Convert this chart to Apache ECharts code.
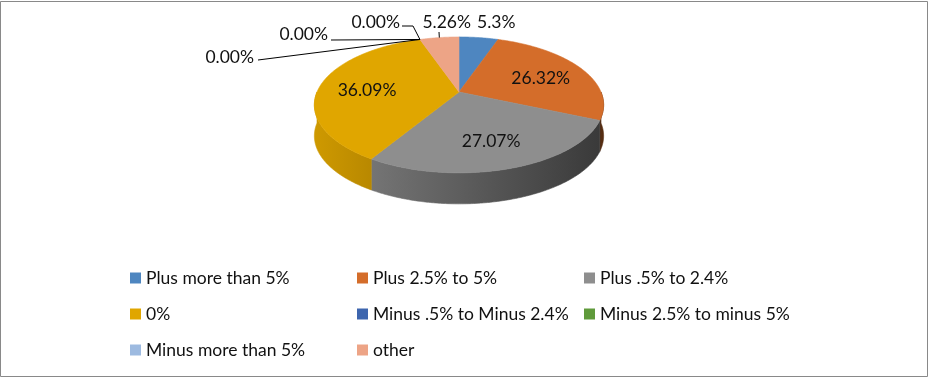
<!DOCTYPE html>
<html><head><meta charset="utf-8">
<script src="https://cdn.jsdelivr.net/npm/echarts@6/dist/echarts.min.js"></script>
<style>html,body{margin:0;padding:0;background:#fff}#c{width:928px;height:380px}</style>
</head><body><div id="c"></div>
<script>
// ---- data ----
const categories = ['Plus more than 5%', 'Plus 2.5% to 5%', 'Plus .5% to 2.4%', '0%',
  'Minus .5% to Minus 2.4%', 'Minus 2.5% to minus 5%', 'Minus more than 5%', 'other'];
const values = [5.26, 26.32, 27.07, 36.09, 0, 0, 0, 5.26];
const labelDecimals = [1, 2, 2, 2, 2, 2, 2, 2];

// ---- style / layout ----
const colors = ['#4E86C0', '#D46D2A', '#8E8E8E', '#E0A600', '#3D65AE', '#5F9A3B', '#9DBAE0', '#EDA486'];
const FONT = 'Lato';
const FS = 17.5;
const TXT = '#111';
const PIE = { cx: 459, cy: 92, r: 142, ry: 65.5, persp: 0.19, depth: 31, labelR: 0.66, labelDy: 3 };
// outside labels: text anchor + leader points (leader starts at slice's rim point)
const outside = {
  0: { x: 477, y: 22, align: 'left', leader: [] },
  7: { x: 471, y: 22, align: 'right', leader: [[439, 32]], mid: true },
  4: { x: 400, y: 22, align: 'right', leader: [[413, 26], [402, 26]] },
  5: { x: 328, y: 34, align: 'right', leader: [[331, 40]] },
  6: { x: 254, y: 57, align: 'right', leader: [[258, 60]] }
};

const total = values.reduce((a, b) => a + b, 0);
const cum = []; values.reduce((acc, v, i) => { cum[i] = acc; return acc + v; }, 0);

function proj(t, f) {
  const c = Math.cos(t), s = Math.sin(t);
  const k = 1 / (1 + PIE.persp * f * c);
  return [PIE.cx + PIE.r * f * s * k, PIE.cy - PIE.ry * f * c * k];
}
function shade(hex, m) {
  const n = parseInt(hex.slice(1), 16);
  const r = Math.round(((n >> 16) & 255) * m), g = Math.round(((n >> 8) & 255) * m), b = Math.round((n & 255) * m);
  return 'rgb(' + r + ',' + g + ',' + b + ')';
}
function sideFill(color) {
  return new echarts.graphic.LinearGradient(PIE.cx - PIE.r - 2, 0, PIE.cx + PIE.r + 2, 0, [
    { offset: 0, color: shade(color, 0.92) },
    { offset: 0.2, color: shade(color, 0.82) },
    { offset: 1, color: shade(color, 0.40) }
  ], true);
}

function makeRender(i) {
  return function (params, api) {
    const v = api.value(0);
    const t0 = cum[i] / total * 2 * Math.PI;
    const t1 = t0 + v / total * 2 * Math.PI;
    const color = colors[i];
    const children = [];
    if (v > 0) {
      const a = Math.max(t0, Math.PI / 2), b = Math.min(t1, 1.5 * Math.PI);
      if (b > a) {
        const n = Math.max(2, Math.ceil((b - a) / 0.01));
        const pts = [];
        for (let j = 0; j <= n; j++) pts.push(proj(a + (b - a) * j / n, 1));
        const bot = pts.slice().reverse().map(p => [p[0], p[1] + PIE.depth]);
        const fill = sideFill(color);
        children.push({ type: 'polygon', z2: 1, shape: { points: pts.concat(bot) },
          style: { fill: fill, stroke: fill, lineWidth: 0.6 } });
      }
      const n2 = Math.max(2, Math.ceil((t1 - t0) / 0.01));
      const top = [proj(0, 0)];
      for (let j = 0; j <= n2; j++) top.push(proj(t0 + (t1 - t0) * j / n2, 1));
      children.push({ type: 'polygon', z2: 5, shape: { points: top },
        style: { fill: color, stroke: color, lineWidth: 0.6 } });
    }
    const text = v.toFixed(labelDecimals[i]) + '%';
    const o = outside[i];
    if (o) {
      const anchor = proj(o.mid ? (t0 + t1) / 2 : t0, 1);
      if (o.leader.length) {
        children.push({ type: 'polyline', z2: 9, shape: { points: [anchor].concat(o.leader) },
          style: { stroke: '#000', lineWidth: 1, fill: null } });
      }
      children.push({ type: 'text', z2: 10, style: { text: text, x: o.x, y: o.y, align: o.align,
        verticalAlign: 'middle', fill: TXT, fontSize: FS, fontFamily: FONT } });
    } else {
      const p = proj((t0 + t1) / 2, PIE.labelR);
      children.push({ type: 'text', z2: 10, style: { text: text, x: p[0], y: p[1] + PIE.labelDy, align: 'center',
        verticalAlign: 'middle', fill: TXT, fontSize: FS, fontFamily: FONT } });
    }
    return { type: 'group', children: children };
  };
}

const legendCols = [130, 357, 584];
const chart = echarts.init(document.getElementById('c'), null, { renderer: 'canvas' });
chart.setOption({
  animation: false,
  backgroundColor: '#fff',
  legend: legendCols.map((x, c) => ({
    orient: 'vertical', left: x, top: 269, padding: 0, icon: 'rect', itemWidth: 11, itemHeight: 11, itemGap: 18,
    selectedMode: false,
    data: categories.filter((_, i) => i % 3 === c),
    textStyle: { fontFamily: FONT, fontSize: FS, color: TXT, lineHeight: 18 }
  })),
  graphic: [{ type: 'rect', silent: true, shape: { x: 0.5, y: 1.5, width: 927, height: 375 },
    style: { fill: null, stroke: '#898989', lineWidth: 1 } }],
  series: categories.map((name, i) => ({
    type: 'custom', name: name, coordinateSystem: 'none', silent: true,
    itemStyle: { color: colors[i] },
    data: [[values[i]]],
    renderItem: makeRender(i)
  }))
});
</script></body></html>
